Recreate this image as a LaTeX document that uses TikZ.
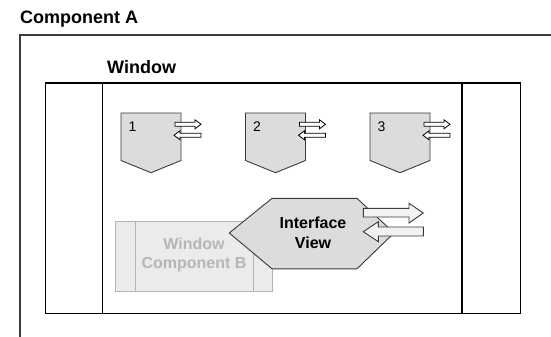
\documentclass[tikz,border=0pt]{standalone}
\usepackage{fontspec}
\setmainfont{Liberation Sans}

\definecolor{framegray}{HTML}{3C3C3C}
\definecolor{shapefill}{HTML}{DCDCDC}
\definecolor{shapeedge}{HTML}{3A3A3A}
\definecolor{ghostfill}{HTML}{EBEBEB}
\definecolor{ghostline}{HTML}{B4B4B4}
\definecolor{ghosttext}{HTML}{B6B6B6}
\definecolor{arrowfill}{HTML}{F2F2F2}

\tikzset{
  title/.style={font=\fontsize{18}{20}\selectfont\bfseries, inner sep=0pt, anchor=base west},
  frame/.style={draw=framegray, line width=1.3pt},
  winframe/.style={draw=black, line width=1.4pt},
  portshape/.style={fill=shapefill, draw=shapeedge, line width=0.9pt, line join=miter},
  portnum/.style={font=\fontsize{14}{16}\selectfont, inner sep=0pt, anchor=base west},
  smallarrow/.style={fill=white, draw=black, line width=0.8pt},
  bigarrow/.style={fill=arrowfill, draw=shapeedge, line width=0.9pt},
  ghost/.style={fill=ghostfill, draw=ghostline, line width=0.9pt},
  ghostlabel/.style={font=\fontsize{16}{19.7}\selectfont\bfseries, text=ghosttext, align=center, inner sep=0pt},
  hexlabel/.style={font=\fontsize{16}{20.5}\selectfont\bfseries, align=center, inner sep=0pt},
  pics/port/.style={code={
    \path[portshape] (0,0) coordinate (-nw) -- (60,0) coordinate (-ne)
      -- (60,47.5) -- (30,59.7) coordinate (-tip) -- (0,47.5) -- cycle;
    % outgoing arrow
    \path[smallarrow] (54,9.3) -- (74,9.3) -- (74,6.8) -- (80,11.3) -- (74,15.8)
      -- (74,13.3) -- (54,13.3) -- cycle;
    % incoming arrow
    \path[smallarrow] (80,20.3) -- (59,20.3) -- (59,17.8) -- (53,22.3) -- (59,26.8)
      -- (59,24.3) -- (80,24.3) -- cycle;
    \node[portnum] (-num) at (7.5,18.7) {#1};
  }}
}

\begin{document}
\begin{tikzpicture}[x=1pt, y=-1pt]
  \useasboundingbox (0,0) rectangle (551,337);

  % Component A frame (open to the right and bottom)
  \node[title] (compA) at (20,23.3) {Component A};
  \draw[frame] (551,35) -- (20,35) -- (20,337);

  % Window frame with side panels
  \node[title] (win) at (107,74) {Window};
  \draw[winframe] (45.5,83) rectangle (520.5,313.5);
  \draw[winframe] (102.5,83) -- (102.5,313.5);
  \draw[winframe] (462,83) -- (462,313.5);

  % Ports
  \pic (p1) at (121,113) {port=1};
  \pic (p2) at (245.5,113) {port=2};
  \pic (p3) at (370,113) {port=3};

  % Window Component B (greyed out)
  \draw[ghost] (115.7,221.7) rectangle (272.3,291.7);
  \draw[ghost] (135,221.7) -- (135,291.7);
  \draw[ghost] (253.3,221.7) -- (253.3,291.7);
  \node[ghostlabel] (compB) at (194,255) {Window\\Component B};

  % Interface View hexagon
  \path[portshape] (229.3,233) coordinate (hw) -- (272,198.3) coordinate (hnw)
    -- (357,198.3) coordinate (hne) -- (394,233) coordinate (he)
    -- (357,268.8) coordinate (hse) -- (272,268.8) coordinate (hsw) -- cycle;
  \node[hexlabel] (iview) at (313,232.7) {Interface\\View};

  % Interface View arrows
  \path[bigarrow] (363.3,208.3) -- (409,208.3) -- (409,203.3) -- (423.3,213)
    -- (409,223) -- (409,217) -- (363.3,217) -- cycle;
  \path[bigarrow] (423.3,227) -- (378.3,227) -- (378.3,221.7) -- (363.3,231.7)
    -- (378.3,241.7) -- (378.3,236) -- (423.3,236) -- cycle;
\end{tikzpicture}
\end{document}
